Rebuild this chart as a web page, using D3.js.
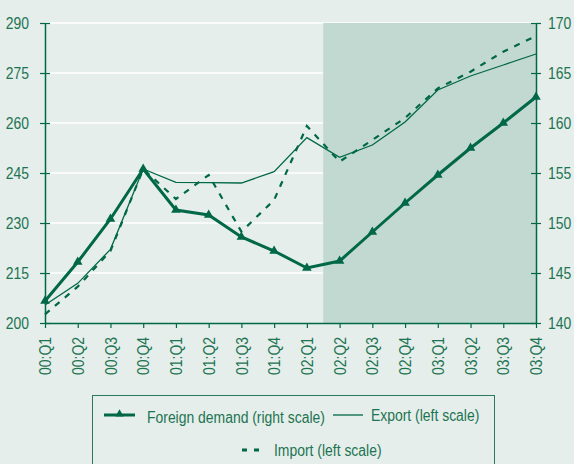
<!DOCTYPE html>
<html>
<head>
<meta charset="utf-8">
<script src="https://cdn.jsdelivr.net/npm/d3@7"></script>
<style>
  body { margin: 0; background: #e5eeea; }
  svg { display: block; }
  text { font-family: "Liberation Sans", Arial, sans-serif; fill: #1d7452; }
</style>
</head>
<body>
<div id="chart"></div>
<script>
// quarters on the x axis
let quarters = ["00:Q1","00:Q2","00:Q3","00:Q4","01:Q1","01:Q2","01:Q3","01:Q4",
                "02:Q1","02:Q2","02:Q3","02:Q4","03:Q1","03:Q2","03:Q3","03:Q4"];

// series
let foreignDemand = [142.2,146.1,150.4,155.4,151.3,150.8,148.6,147.2,145.5,146.2,149.1,152.0,154.8,157.5,160.0,162.6];
let exportVals    = [205.4,211.9,222.1,246.2,242.2,242.1,242.0,245.4,255.6,249.7,253.4,260.3,269.9,274.1,277.4,280.7];
let importVals    = [202.6,210.9,221.6,246.2,237.2,244.4,227.4,236.9,259.1,248.4,254.9,261.5,270.4,275.4,281.4,286.1];

let leftTicks = [200,215,230,245,260,275,290];
let rightTicks = [140,145,150,155,160,165,170];

// forecast shading starts between 02:Q1 and 02:Q2
let shadeFrom = 8.5;

let W = 574, H = 464;
let margin = {top: 23, right: 38, bottom: 141, left: 45};
let width = W - margin.left - margin.right;
let height = H - margin.top - margin.bottom;
let dark = "#006747";

let svg = d3.select("#chart").append("svg")
    .attr("width", W).attr("height", H);

svg.append("rect").attr("width", W).attr("height", H).attr("fill", "#e5eeea");

let g = svg.append("g").attr("transform", "translate(" + margin.left + "," + margin.top + ")");

let x = d3.scaleLinear().domain([0, quarters.length - 1]).range([0, width]);
let yL = d3.scaleLinear().domain([200, 290]).range([height, 0]);
let yR = d3.scaleLinear().domain([140, 170]).range([height, 0]);

// grid lines
g.selectAll(".grid").data(leftTicks.slice(1))
    .enter().append("line")
    .attr("x1", 0).attr("x2", width)
    .attr("y1", d => yL(d)).attr("y2", d => yL(d))
    .attr("stroke", "#ffffff").attr("stroke-width", 1.5);

// shaded forecast area
g.append("rect")
    .attr("x", x(shadeFrom)).attr("y", 0)
    .attr("width", x(quarters.length - 1) - x(shadeFrom))
    .attr("height", height)
    .attr("fill", "#c2d9d2");

// axes
let leftAxis = g.append("g").call(d3.axisLeft(yL).tickValues(leftTicks).tickSizeInner(5).tickSizeOuter(0).tickPadding(11));
let rightAxis = g.append("g").attr("transform", "translate(" + width + ",0)")
    .call(d3.axisRight(yR).tickValues(rightTicks).tickSizeInner(5).tickSizeOuter(0).tickPadding(7));
let xAxis = g.append("g").attr("transform", "translate(0," + height + ")")
    .call(d3.axisBottom(x).tickValues(d3.range(quarters.length)).tickFormat(i => quarters[i]).tickSizeInner(5).tickSizeOuter(0));

[leftAxis, rightAxis, xAxis].forEach(a => {
    a.select(".domain").attr("stroke", dark).attr("stroke-width", 1.5);
    a.selectAll(".tick line").attr("stroke", dark).attr("stroke-width", 1.2);
    a.selectAll("text").attr("fill", "#1d7452").style("font-size", "16px")
        .attr("font-family", null);
});
// ticks crossing the vertical axes
leftAxis.selectAll(".tick").append("line").attr("x2", 5).attr("stroke", dark).attr("stroke-width", 1.2);
rightAxis.selectAll(".tick").append("line").attr("x2", -5).attr("stroke", dark).attr("stroke-width", 1.2);

xAxis.selectAll("text")
    .style("font-size", "16px")
    .attr("text-anchor", "end")
    .attr("transform", "rotate(-90)")
    .attr("x", -14).attr("y", 0).attr("dy", "0.35em");

// lines
let lineL = d3.line().x((d, i) => x(i)).y(d => yL(d));
let lineR = d3.line().x((d, i) => x(i)).y(d => yR(d));

g.append("path").datum(exportVals).attr("d", lineL)
    .attr("fill", "none").attr("stroke", dark).attr("stroke-width", 1.3);

g.append("path").datum(importVals).attr("d", lineL)
    .attr("fill", "none").attr("stroke", dark).attr("stroke-width", 2.2)
    .attr("stroke-dasharray", "6,7");

g.append("path").datum(foreignDemand).attr("d", lineR)
    .attr("fill", "none").attr("stroke", dark).attr("stroke-width", 3);

g.selectAll(".fd").data(foreignDemand).enter().append("path")
    .attr("d", d3.symbol().type(d3.symbolTriangle).size(40))
    .attr("transform", (d, i) => "translate(" + x(i) + "," + yR(d) + ")")
    .attr("fill", dark);

// legend
let lg = svg.append("g");
lg.append("rect").attr("x", 92.5).attr("y", 395.5).attr("width", 402).attr("height", 80)
    .attr("fill", "none").attr("stroke", "#2a7a5c").attr("stroke-width", 1);

lg.append("line").attr("x1", 104).attr("x2", 135).attr("y1", 415).attr("y2", 415)
    .attr("stroke", dark).attr("stroke-width", 3);
lg.append("path").attr("d", d3.symbol().type(d3.symbolTriangle).size(30))
    .attr("transform", "translate(119.5,414)").attr("fill", dark);
lg.append("text").attr("x", 147).attr("y", 423).style("font-size", "16px").text("Foreign demand (right scale)");

lg.append("line").attr("x1", 333).attr("x2", 363).attr("y1", 415).attr("y2", 415)
    .attr("stroke", dark).attr("stroke-width", 1.3);
lg.append("text").attr("x", 371).attr("y", 421).style("font-size", "16px").text("Export (left scale)");

lg.append("line").attr("x1", 242).attr("x2", 265).attr("y1", 450).attr("y2", 450)
    .attr("stroke", dark).attr("stroke-width", 3).attr("stroke-dasharray", "5,7");
lg.append("text").attr("x", 274).attr("y", 456).style("font-size", "16px").text("Import (left scale)");

// the original face is a condensed sans, squeeze the text horizontally
svg.selectAll("text").each(function() {
    let len = this.getComputedTextLength();
    d3.select(this).attr("textLength", len * 0.87).attr("lengthAdjust", "spacingAndGlyphs");
});
</script>
</body>
</html>
